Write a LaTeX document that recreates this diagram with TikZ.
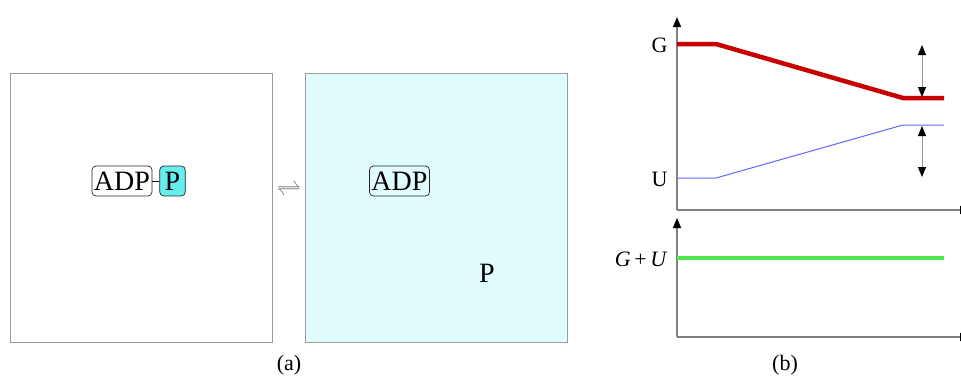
\documentclass[tikz,border=0pt]{standalone}
\usepackage{fontspec}
\setmainfont{Liberation Serif}
\usetikzlibrary{arrows.meta,positioning}
\definecolor{cellcyan}{HTML}{E0FBFB}
\definecolor{phoscyan}{HTML}{66EEEE}
\definecolor{axisgray}{HTML}{808080}
\definecolor{edgegray}{HTML}{9A9A9A}
\definecolor{gred}{HTML}{C80000}
\definecolor{ublue}{HTML}{6464FF}
\definecolor{sumgreen}{HTML}{50E650}

\begin{document}
\begin{tikzpicture}[x=1pt,y=-1pt,
  panel/.style={draw=edgegray,line width=1pt,minimum width=262pt,
                minimum height=269pt,inner sep=0pt},
  mol/.style={draw=black!85,line width=0.7pt,rounded corners=4pt,inner xsep=2pt,
              minimum height=30pt,font=\fontsize{28}{30}\selectfont},
  lbl/.style={font=\fontsize{22}{26}\selectfont},
  axis/.style={draw=axisgray,line width=1.5pt},
  yaxis/.style={axis,-{Triangle[length=10pt,width=8pt,color=black]}},
  gap/.style={draw=axisgray!80,line width=1pt,
              {Triangle[length=10pt,width=8pt,color=black]}-{Triangle[length=10pt,width=8pt,color=black]}}
]
  \useasboundingbox (0,0) rectangle (961,380);

  % (a) the two states
  \node[panel] (bound) at (141,207.5) {};
  \node[panel,fill=cellcyan] (free) at (436.5,207.5) {};
  \node[font=\fontsize{28}{30}\selectfont,text=axisgray] (eq) at (289,190) {$\rightleftharpoons$};

  \node[mol] (adp1) at (122,181) {ADP};
  \node[mol,fill=phoscyan,inner xsep=5pt,right=7pt of adp1] (p1) {P};
  \draw[thin] (adp1) -- (p1);

  \node[mol] (adp2) at (399.5,181) {ADP};
  \node[font=\fontsize{28}{30}\selectfont] (p2) at (487,273) {P};

  \node[lbl] (capa) at (289,365) {(a)};
  \node[lbl] (capb) at (785,365) {(b)};

  % (b) upper plot
  \coordinate (o1) at (677,210);
  \draw[yaxis] (o1) -- (677,17);
  \draw[axis,-{Triangle[length=10pt,width=8pt,color=black]}] (o1) -- (970,210);
  \draw[gred,line width=4.5pt] (677,44) -- (716,44) -- (903,98) -- (944,98);
  \draw[ublue,line width=1pt] (677,178) -- (716,178) -- (903,125) -- (944,125);
  \node[lbl,anchor=east] (glbl) at (671,45) {G};
  \node[lbl,anchor=east] (ulbl) at (671,179) {U};
  \coordinate (gtop) at (922,45);
  \coordinate (gbot) at (922,97);
  \coordinate (utop) at (922,126);
  \coordinate (ubot) at (922,177);
  \draw[gap] (gtop) -- (gbot);
  \draw[gap] (utop) -- (ubot);

  % (b) lower plot
  \coordinate (o2) at (677,337);
  \draw[yaxis] (o2) -- (677,218);
  \draw[axis,-{Triangle[length=10pt,width=8pt,color=black]}] (o2) -- (970,337);
  \draw[sumgreen,line width=4.5pt] (677,258) -- (944,258);
  \node[lbl,anchor=east] (sumlbl) at (671,259) {\textit{G}\,+\,\textit{U}};
\end{tikzpicture}
\end{document}
